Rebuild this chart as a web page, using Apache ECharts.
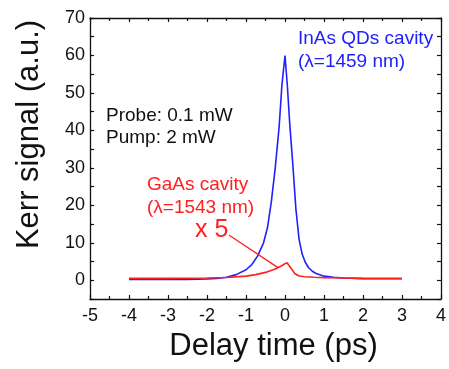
<!DOCTYPE html>
<html>
<head>
<meta charset="UTF-8">
<title>Kerr signal</title>
<script src="https://cdn.jsdelivr.net/npm/echarts@6.0.0/dist/echarts.min.js"></script>
<style>
  html, body { margin: 0; padding: 0; background: #fff; }
  #main { width: 449px; height: 369px; }
</style>
</head>
<body>
<div id="main"></div>
<script>
// InAs QDs cavity (blue) - delay (ps), signal
var inasX = [-4, -3.5, -3, -2.5, -2, -1.75, -1.5, -1.25, -1, -0.85, -0.7, -0.55, -0.45, -0.35, -0.25, -0.15, -0.08, 0, 0.06, 0.12, 0.2, 0.28, 0.36, 0.44, 0.52, 0.6, 0.7, 0.8, 1, 1.25, 1.5, 2, 2.5, 3];
var inasY = [0.2, 0.2, 0.2, 0.25, 0.35, 0.5, 0.8, 1.5, 2.8, 4.2, 6.5, 10, 14, 21, 30, 41, 52, 60, 52, 42, 31, 19, 11, 7, 4.8, 3.4, 2.4, 1.8, 1.1, 0.8, 0.6, 0.45, 0.4, 0.4];
// GaAs cavity (red, x5)
var gaasX = [-4, -3, -2, -1.5, -1, -0.75, -0.5, -0.25, -0.1, 0.05, 0.15, 0.25, 0.35, 0.5, 0.75, 1, 1.5, 2, 3];
var gaasY = [0.5, 0.5, 0.6, 0.75, 1.1, 1.5, 2.1, 3.0, 3.8, 4.7, 3.3, 1.8, 1.2, 0.95, 0.8, 0.7, 0.6, 0.5, 0.5];
// leader line from "x 5" label to the red peak
var leader = [[-1.44, 12.1], [-0.17, 3.3]];

var xTicks = { min: -5, max: 4, interval: 1 };
var yTicks = { min: -5, max: 70, interval: 5 };

function zip(xs, ys) { return xs.map(function (x, i) { return [x, ys[i]]; }); }

var chart = echarts.init(document.getElementById('main'));
var FONT = 'Liberation Sans, Arial, sans-serif';
var axisLine = { show: true, onZero: false, lineStyle: { color: '#111', width: 1.3 } };

function xAxisCfg(pos, labels) {
  return {
    type: 'value', position: pos, min: xTicks.min, max: xTicks.max, interval: xTicks.interval,
    axisLine: axisLine,
    axisTick: { show: true, inside: true, length: 4, lineStyle: { color: '#111', width: 1.2 } },
    minorTick: { show: true, splitNumber: 2, length: 3, lineStyle: { color: '#111', width: 1.2 } },
    axisLabel: { show: labels, color: '#111', fontSize: 18, fontFamily: FONT, margin: 8 },
    splitLine: { show: false }
  };
}
function yAxisCfg(pos, labels) {
  return {
    type: 'value', position: pos, min: yTicks.min, max: yTicks.max, interval: yTicks.interval,
    axisLine: axisLine,
    axisTick: { show: true, inside: true, length: 4, lineStyle: { color: '#111', width: 1.2 } },
    minorTick: { show: false },
    axisLabel: {
      show: labels, color: '#111', fontSize: 18, fontFamily: FONT, margin: 5,
      formatter: function (v) { return (v >= 0 && v % 10 === 0) ? v : ''; }
    },
    splitLine: { show: false }
  };
}

var xb = xAxisCfg('bottom', true);
xb.name = 'Delay time (ps)';
xb.nameLocation = 'middle';
xb.nameGap = 32;
xb.nameTextStyle = { color: '#111', fontSize: 31, fontFamily: FONT, padding: [0, 0, 0, 16] };

var yl = yAxisCfg('left', true);
yl.name = 'Kerr signal (a.u.)';
yl.nameLocation = 'middle';
yl.nameGap = 45;
yl.nameTextStyle = { color: '#111', fontSize: 31, fontFamily: FONT, padding: [0, 0, 0, 48] };

var option = {
  animation: false,
  grid: { left: 90, right: 5, top: 18, bottom: 70 },
  xAxis: [xb, xAxisCfg('top', false)],
  yAxis: [yl, yAxisCfg('right', false)],
  series: [
    {
      type: 'line', xAxisIndex: 0, yAxisIndex: 0,
      data: zip(inasX, inasY), showSymbol: false,
      lineStyle: { color: '#2020ff', width: 1.6 }
    },
    {
      type: 'line', xAxisIndex: 0, yAxisIndex: 0,
      data: zip(gaasX, gaasY), showSymbol: false,
      lineStyle: { color: '#ff2020', width: 1.6 },
      markLine: {
        silent: true, symbol: ['none', 'none'],
        lineStyle: { color: '#ff2020', width: 1.3, type: 'solid' },
        label: { show: false },
        data: [[{ coord: leader[0] }, { coord: leader[1] }]]
      }
    }
  ],
  graphic: [
    { type: 'text', left: 298, top: 29, style: { text: 'InAs QDs cavity', fill: '#2020ff', font: '19px ' + FONT } },
    { type: 'text', left: 298, top: 52, style: { text: '(λ=1459 nm)', fill: '#2020ff', font: '19px ' + FONT } },
    { type: 'text', left: 106, top: 106, style: { text: 'Probe: 0.1 mW', fill: '#111', font: '19px ' + FONT } },
    { type: 'text', left: 106, top: 128, style: { text: 'Pump: 2 mW', fill: '#111', font: '19px ' + FONT } },
    { type: 'text', left: 147, top: 175, style: { text: 'GaAs cavity', fill: '#ff2020', font: '19px ' + FONT } },
    { type: 'text', left: 147, top: 198, style: { text: '(λ=1543 nm)', fill: '#ff2020', font: '19px ' + FONT } },
    { type: 'text', left: 195, top: 218, style: { text: 'x 5', fill: '#ff2020', font: '25px ' + FONT } }
  ]
};
chart.setOption(option);
</script>
</body>
</html>
